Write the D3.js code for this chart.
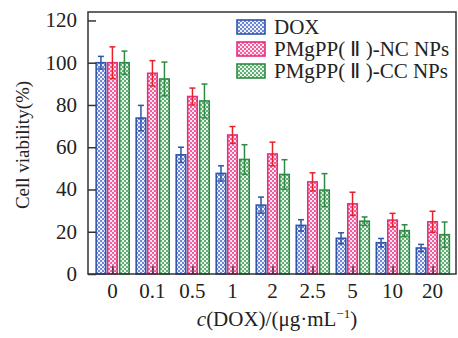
<!DOCTYPE html>
<html>
<head>
<meta charset="utf-8">
<script src="https://cdn.jsdelivr.net/npm/d3@7"></script>
<style>
  body { margin: 0; background: #fff; }
  text { font-family: "Liberation Serif", "Times New Roman", serif; fill: #222; }
</style>
</head>
<body>
<svg width="458" height="338"></svg>
<script>
// data
var doses = ["0", "0.1", "0.5", "1", "2", "2.5", "5", "10", "20"];
var seriesNames = ["DOX", "PMgPP( \u2161 )-NC NPs", "PMgPP( \u2161 )-CC NPs"];
var doxMean = [100, 73.8, 56.4, 47.6, 32.6, 23, 16.9, 14.8, 12.3];
var doxErr  = [3, 6, 3.6, 3.6, 3.8, 2.7, 2.6, 2, 1.7];
var ncMean  = [100, 95, 84, 65.8, 56.8, 43.6, 33.2, 25.5, 24.7];
var ncErr   = [7.5, 6, 4, 4, 5.6, 4.3, 5.5, 3.2, 5];
var ccMean  = [100, 92.3, 81.9, 54.2, 47.1, 39.7, 25, 20.5, 18.6];
var ccErr   = [5.5, 8, 8, 7, 7, 7.8, 2, 2.8, 6];
var yTicks  = [0, 20, 40, 60, 80, 100, 120];

var series = [
  {name: seriesNames[0], mean: doxMean, err: doxErr, stroke: "#2f55ad", dot: "#6f86d2", bg: "#eef1fa", errColor: "#2f55ad", id: "pDox"},
  {name: seriesNames[1], mean: ncMean, err: ncErr, stroke: "#e62e80", dot: "#f0609c", bg: "#fde6ef", errColor: "#e8202a", id: "pNc"},
  {name: seriesNames[2], mean: ccMean, err: ccErr, stroke: "#2f8a45", dot: "#66ad78", bg: "#e6f3e9", errColor: "#2f8a45", id: "pCc"}
];

var svg = d3.select("svg");
var pLeft = 88, pRight = 457, pTop = 12, pBottom = 274;

var x = d3.scalePoint().domain(doses).range([pLeft, pRight]).padding(0.61);
var y = d3.scaleLinear().domain([0, 124]).range([pBottom, pTop]);

// checker fills
var defs = svg.append("defs");
series.forEach(function(s) {
  var p = defs.append("pattern").attr("id", s.id)
    .attr("width", 4).attr("height", 4).attr("patternUnits", "userSpaceOnUse");
  p.append("rect").attr("width", 4).attr("height", 4).attr("fill", s.bg);
  p.append("rect").attr("width", 2).attr("height", 2).attr("fill", s.dot);
  p.append("rect").attr("x", 2).attr("y", 2).attr("width", 2).attr("height", 2).attr("fill", s.dot);
});

var offsets = [-11.5, 0, 12], barW = 9.5, cap = 3;

series.forEach(function(s, si) {
  var g = svg.append("g");
  g.selectAll("rect").data(doses).enter().append("rect")
    .attr("x", function(d) { return x(d) + offsets[si] - barW / 2; })
    .attr("y", function(d, i) { return y(s.mean[i]); })
    .attr("width", barW)
    .attr("height", function(d, i) { return y(0) - y(s.mean[i]); })
    .attr("fill", "url(#" + s.id + ")")
    .attr("stroke", s.stroke).attr("stroke-width", 1.6);

  var eg = svg.append("g").attr("stroke", s.errColor).attr("stroke-width", 1.5);
  doses.forEach(function(d, i) {
    var cx = x(d) + offsets[si];
    var hi = y(s.mean[i] + s.err[i]), lo = y(s.mean[i] - s.err[i]);
    eg.append("line").attr("x1", cx).attr("x2", cx).attr("y1", hi).attr("y2", lo);
    eg.append("line").attr("x1", cx - cap).attr("x2", cx + cap).attr("y1", hi).attr("y2", hi);
    eg.append("line").attr("x1", cx - cap).attr("x2", cx + cap).attr("y1", lo).attr("y2", lo);
  });
});

// frame
svg.append("rect").attr("x", pLeft).attr("y", pTop)
  .attr("width", pRight - pLeft - 1).attr("height", pBottom - pTop)
  .attr("fill", "none").attr("stroke", "#333").attr("stroke-width", 1.5);

// y axis, inward ticks
var yAxis = svg.append("g").attr("transform", "translate(" + pLeft + ",0)")
  .call(d3.axisRight(y).tickValues(yTicks).tickSize(8).tickFormat(""));
yAxis.select(".domain").remove();
yAxis.selectAll("line").attr("stroke", "#333").attr("stroke-width", 1.5);
svg.append("g").selectAll("text").data(yTicks).enter().append("text")
  .attr("x", 77).attr("y", function(d) { return y(d) + 7; })
  .attr("text-anchor", "end").attr("font-size", 21)
  .text(function(d) { return d; });

// x axis, inward ticks
var xAxis = svg.append("g").attr("transform", "translate(0," + pBottom + ")")
  .call(d3.axisTop(x).tickSize(8).tickFormat(""));
xAxis.select(".domain").remove();
xAxis.selectAll("line").attr("stroke", "#333").attr("stroke-width", 1.5);
svg.append("g").selectAll("text").data(doses).enter().append("text")
  .attr("x", function(d) { return x(d); }).attr("y", 298)
  .attr("text-anchor", "middle").attr("font-size", 21)
  .text(function(d) { return d; });

// axis titles
svg.append("text")
  .attr("transform", "translate(29,145) rotate(-90)")
  .attr("text-anchor", "middle").attr("font-size", 19)
  .text("Cell viability(%)");

var xt = svg.append("text").attr("x", 277).attr("y", 326)
  .attr("text-anchor", "middle").attr("font-size", 21);
xt.append("tspan").attr("font-style", "italic").text("c");
xt.append("tspan").text("(DOX)/(\u03bcg\u00b7mL");
xt.append("tspan").attr("font-size", 13).attr("dy", -8).text("\u22121");
xt.append("tspan").attr("dy", 8).text(")");

// legend
var lg = svg.append("g");
series.forEach(function(s, i) {
  var ly = 20 + i * 22;
  lg.append("rect").attr("x", 237).attr("y", ly).attr("width", 28).attr("height", 14)
    .attr("fill", "url(#" + s.id + ")").attr("stroke", s.stroke).attr("stroke-width", 1.6);
  lg.append("text").attr("x", 274).attr("y", ly + 14).attr("font-size", 21).text(s.name);
});
</script>
</body>
</html>
